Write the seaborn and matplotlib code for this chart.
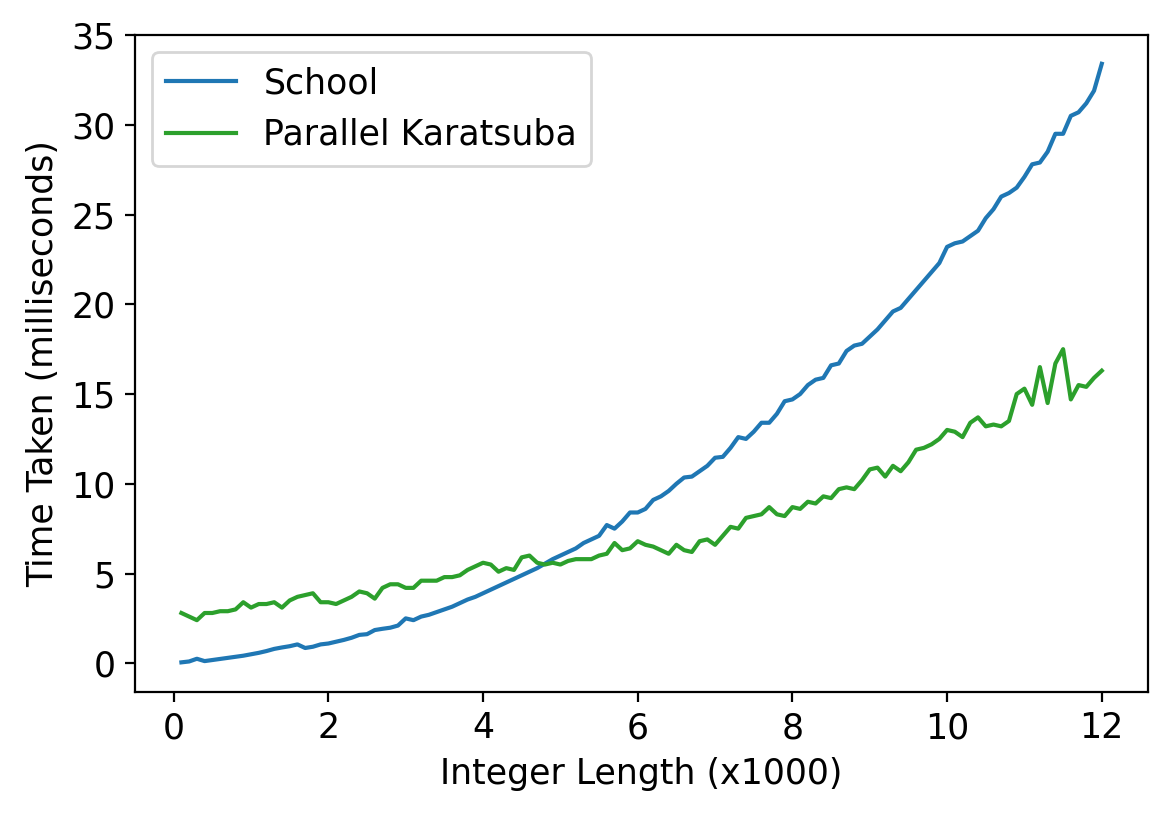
import numpy as np
import pandas as pd
import matplotlib
matplotlib.use("Agg")
import matplotlib.pyplot as plt
import seaborn as sns

x = [round(0.1 * i, 1) for i in range(1, 121)]
school = [0.05,0.1,0.25,0.12,0.18,0.24,0.3,0.36,0.42,0.5,
          0.58,0.68,0.8,0.88,0.95,1.05,0.85,0.92,1.05,1.1,
          1.2,1.3,1.42,1.58,1.62,1.85,1.92,1.98,2.1,2.5,
          2.4,2.6,2.7,2.85,3.0,3.15,3.35,3.55,3.7,3.9,
          4.1,4.3,4.5,4.7,4.9,5.1,5.3,5.55,5.8,6.0,
          6.2,6.4,6.7,6.9,7.1,7.7,7.5,7.9,8.4,8.4,
          8.6,9.1,9.3,9.6,10.0,10.35,10.4,10.7,11.0,11.45,
          11.5,12.0,12.6,12.5,12.9,13.4,13.4,13.9,14.6,14.7,
          15.0,15.5,15.8,15.9,16.6,16.7,17.4,17.7,17.8,18.2,
          18.6,19.1,19.6,19.8,20.3,20.8,21.3,21.8,22.3,23.2,
          23.4,23.5,23.8,24.1,24.8,25.3,26.0,26.2,26.5,27.1,
          27.8,27.9,28.5,29.5,29.5,30.5,30.7,31.2,31.9,33.4]
karatsuba = [2.8,2.6,2.4,2.8,2.8,2.9,2.9,3.0,3.4,3.1,
             3.3,3.3,3.4,3.1,3.5,3.7,3.8,3.9,3.4,3.4,
             3.3,3.5,3.7,4.0,3.9,3.6,4.2,4.4,4.4,4.2,
             4.2,4.6,4.6,4.6,4.8,4.8,4.9,5.2,5.4,5.6,
             5.5,5.1,5.3,5.2,5.9,6.0,5.6,5.5,5.6,5.5,
             5.7,5.8,5.8,5.8,6.0,6.1,6.7,6.3,6.4,6.8,
             6.6,6.5,6.3,6.1,6.6,6.3,6.2,6.8,6.9,6.6,
             7.1,7.6,7.5,8.1,8.2,8.3,8.7,8.3,8.2,8.7,
             8.6,9.0,8.9,9.3,9.2,9.7,9.8,9.7,10.2,10.8,
             10.9,10.4,11.0,10.7,11.2,11.9,12.0,12.2,12.5,13.0,
             12.9,12.6,13.4,13.7,13.2,13.3,13.2,13.5,15.0,15.3,
             14.4,16.5,14.5,16.7,17.5,14.7,15.5,15.4,15.9,16.3]
series_names = ["School", "Parallel Karatsuba"]

df = pd.DataFrame({"x": x * 2, "y": school + karatsuba,
                   "s": [series_names[0]] * 120 + [series_names[1]] * 120})

plt.rcParams["font.family"] = ["DejaVu Sans"]
fig = plt.figure(figsize=(5.87, 4.08), dpi=200)
ax = fig.add_axes([0.115, 0.152, 0.863, 0.805])
sns.lineplot(data=df, x="x", y="y", hue="s", palette=["#1f77b4", "#2ca02c"], ax=ax, linewidth=1.5)
ax.set_xlabel("Integer Length (x1000)", fontsize=12.5)
ax.set_ylabel("Time Taken (milliseconds)", fontsize=12.5)
ax.set_xlim(-0.5, 12.6)
ax.set_ylim(-1.6, 35)
ax.set_xticks([0, 2, 4, 6, 8, 10, 12])
ax.set_yticks([0, 5, 10, 15, 20, 25, 30, 35])
ax.tick_params(labelsize=12.5)
ax.legend(title=None, fontsize=12.5, loc="upper left")
fig.savefig("out.png", dpi=200)
